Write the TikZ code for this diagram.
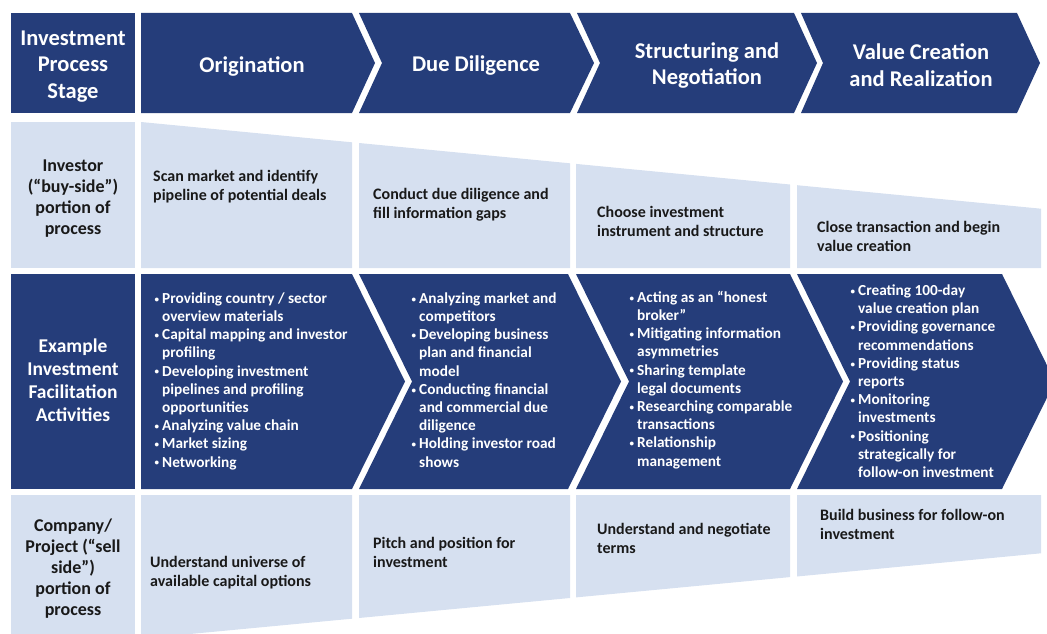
\documentclass[tikz,border=0pt]{standalone}
\usepackage{fontspec}
\setmainfont{Carlito}
\definecolor{navy}{RGB}{37,61,122}
\definecolor{paleblue}{RGB}{214,224,240}
\definecolor{inkgray}{RGB}{25,25,25}
\newcommand{\bitem}{\makebox[7.5pt][l]{\raisebox{1.2pt}{\fontsize{9}{9}\selectfont\textbullet}}}
\newcommand{\bcont}{\hspace*{7.5pt}}
\tikzstyle{darkcell} = [
    fill=navy
]
\tikzstyle{lightcell} = [
    fill=paleblue
]
\tikzstyle{headtext} = [
    text=white,
    font=\fontsize{22.5}{26.5}\selectfont\bfseries,
    align=center
]
\tikzstyle{sidelabel} = [
    text=inkgray,
    font=\fontsize{18}{21}\selectfont\bfseries,
    align=center
]
\tikzstyle{sidelabelwhite} = [
    text=white,
    font=\fontsize{19.5}{23}\selectfont\bfseries,
    align=center
]
\tikzstyle{celltext} = [
    text=inkgray,
    font=\fontsize{16}{19}\selectfont\bfseries,
    align=left,
    anchor=base west,
    inner sep=0pt
]
\tikzstyle{bullettext} = [
    text=white,
    font=\fontsize{15.3}{18.2}\selectfont\bfseries,
    align=left,
    anchor=base west,
    inner sep=0pt
]

\begin{document}
\begin{tikzpicture}[x=1pt, y=-1pt]

\useasboundingbox (0,0) rectangle (1047,634);

\fill [darkcell] (11,13) rectangle (135,113);
\fill [darkcell] (141,13) -- (352,13) -- (375,63) -- (352,113) -- (141,113) -- cycle;
\fill [darkcell] (359,13) -- (570,13) -- (594,63) -- (570,113) -- (359,113) -- (382,63) -- cycle;
\fill [darkcell] (577,13) -- (794,13) -- (817,63) -- (794,113) -- (577,113) -- (600,63) -- cycle;
\fill [darkcell] (801,13) -- (1017,13) -- (1040,63) -- (1017,113) -- (801,113) -- (823,63) -- cycle;

\fill [lightcell] (11,122) rectangle (135,268);
\fill [lightcell] (141,122) -- (352,142.3) -- (352,268) -- (141,268) -- cycle;
\fill [lightcell] (359,143) -- (570,163.3) -- (570,268) -- (359,268) -- cycle;
\fill [lightcell] (576,163.9) -- (790,184.5) -- (790,268) -- (576,268) -- cycle;
\fill [lightcell] (797,185.2) -- (1041,208.7) -- (1041,268) -- (797,268) -- cycle;

\fill [darkcell] (11,274) rectangle (135,489);
\fill [darkcell] (141,274) -- (352,274) -- (405,381.5) -- (352,489) -- (141,489) -- cycle;
\fill [darkcell] (359,274) -- (568,274) -- (621,381.5) -- (568,489) -- (359,489) -- (412,381.5) -- cycle;
\fill [darkcell] (576,274) -- (790,274) -- (843,381.5) -- (790,489) -- (576,489) -- (629,381.5) -- cycle;
\fill [darkcell] (797,274) -- (1002,274) -- (1047,365.3) -- (1047,397.7) -- (1002,489) -- (797,489) -- (850,381.5) -- cycle;

\fill [lightcell] (11,495) rectangle (135,634);
\fill [lightcell] (141,495) -- (352,495) -- (352,618.7) -- (190.2,634) -- (141,634) -- cycle;
\fill [lightcell] (359,495) -- (570,495) -- (570,598) -- (359,618) -- cycle;
\fill [lightcell] (576,495) -- (790,495) -- (790,577.1) -- (576,597.4) -- cycle;
\fill [lightcell] (797,495) -- (1041,495) -- (1041,553.3) -- (797,576.5) -- cycle;

\node (hdstage) [headtext] at (73,66.5) {Investment\\Process\\Stage};

\node (hdorig) [headtext] at (252,66) {Origination};

\node (hddd) [headtext] at (476,66) {Due Diligence};

\node (hdstruct) [headtext] at (707,65.5) {Structuring and\\Negotiation};

\node (hdvalue) [headtext] at (921,65) {Value Creation\\and Realization};

\node (lbbuy) [sidelabel] at (73,199) {Investor\\(“buy-side”)\\portion of\\process};

\node (lbact) [sidelabelwhite] at (73,380.5) {Example\\Investment\\Facilitation\\Activities};

\node (lbsell) [sidelabel] at (73,569) {Company/\\Project (“sell\\side”)\\portion of\\process};

\node (buyorig) [celltext] at (153,200.5) {Scan market and identify\\pipeline of potential deals};

\node (buydd) [celltext] at (373,218) {Conduct due diligence and\\fill information gaps};

\node (buystruct) [celltext] at (597,236) {Choose investment\\instrument and structure};

\node (buyvalue) [celltext] at (817,251) {Close transaction and begin\\value creation};

\node (actorig) [bullettext] at (154.5,467)
{\bitem Providing country / sector\\\bcont overview materials\\\bitem Capital mapping and investor\\\bcont profiling\\\bitem Developing investment\\\bcont pipelines and profiling\\\bcont opportunities\\\bitem Analyzing value chain\\\bitem Market sizing\\\bitem Networking};

\node (actdd) [bullettext] at (411.5,467)
{\bitem Analyzing market and\\\bcont competitors\\\bitem Developing business\\\bcont plan and financial\\\bcont model\\\bitem Conducting financial\\\bcont and commercial due\\\bcont diligence\\\bitem Holding investor road\\\bcont shows};

\node (actstruct) [bullettext] at (629.5,466)
{\bitem Acting as an “honest\\\bcont broker”\\\bitem Mitigating information\\\bcont asymmetries\\\bitem Sharing template\\\bcont legal documents\\\bitem Researching comparable\\\bcont transactions\\\bitem Relationship\\\bcont management};

\node (actvalue) [bullettext] at (850.5,477.5)
{\bitem Creating 100-day\\\bcont value creation plan\\\bitem Providing governance\\\bcont recommendations\\\bitem Providing status\\\bcont reports\\\bitem Monitoring\\\bcont investments\\\bitem Positioning\\\bcont strategically for\\\bcont follow-on investment};

\node (sellorig) [celltext] at (150,586) {Understand universe of\\available capital options};

\node (selldd) [celltext] at (373,567) {Pitch and position for\\investment};

\node (sellstruct) [celltext] at (597,553) {Understand and negotiate\\terms};

\node (sellvalue) [celltext] at (820,539) {Build business for follow-on\\investment};

\end{tikzpicture}
\end{document}
